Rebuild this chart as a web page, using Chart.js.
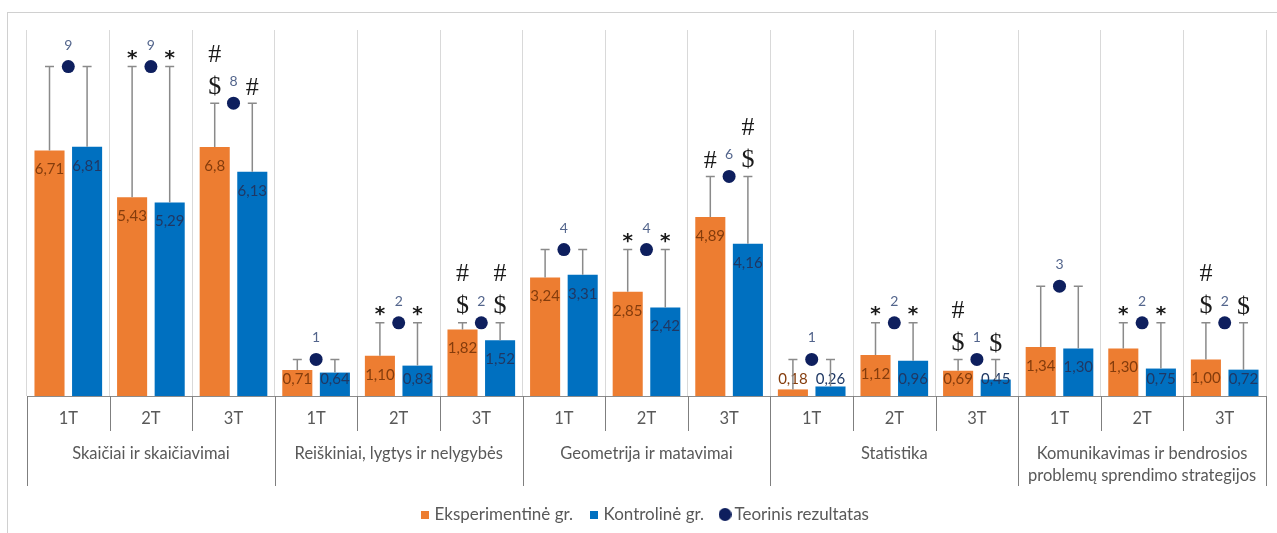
<!DOCTYPE html>
<html lang="lt">
<head>
<meta charset="utf-8">
<title>Matematikos testų rezultatai</title>
<script src="https://cdn.jsdelivr.net/npm/chart.js@4.4.1/dist/chart.umd.min.js"></script>
<style>
  html, body { margin: 0; padding: 0; background: #fff; overflow: hidden; }
  #frame { position: absolute; left: 7px; top: 12px; width: 1320px; height: 580px;
           border: 1px solid #d0d0d0; box-sizing: border-box; }
  #c { position: absolute; left: 0; top: 0; }
</style>
</head>
<body>
<div id="frame"></div>
<canvas id="c" width="1277" height="533"></canvas>
<script>
// Content areas (outer axis level) and test rounds (inner axis level)
const groups = [
  'Skaičiai ir skaičiavimai',
  'Reiškiniai, lygtys ir nelygybės',
  'Geometrija ir matavimai',
  'Statistika',
  ['Komunikavimas ir bendrosios', 'problemų sprendimo strategijos']
];
const tests = ['1T', '2T', '3T'];

// Mean scores as printed on the bars
const experimentalText = ['6,71', '5,43', '6,8', '0,71', '1,10', '1,82', '3,24', '2,85', '4,89', '0,18', '1,12', '0,69', '1,34', '1,30', '1,00'];
const controlText      = ['6,81', '5,29', '6,13', '0,64', '0,83', '1,52', '3,31', '2,42', '4,16', '0,26', '0,96', '0,45', '1,30', '0,75', '0,72'];
// Maximum (theoretical) score; the whiskers reach up to it
const theoretical = [9, 9, 8, 1, 2, 2, 4, 4, 6, 1, 2, 1, 3, 2, 2];

// Significance marks above each whisker (first character sits on top)
const experimentalMarks = ['', '*', '#$', '', '*', '#$', '', '*', '#', '', '*', '#$', '', '*', '#$'];
const controlMarks      = ['', '*', '#', '', '*', '#$', '', '*', '#$', '', '*', '$', '', '*', '$'];

const toNumber = s => parseFloat(s.replace(',', '.'));
const experimental = experimentalText.map(toNumber);
const control = controlText.map(toNumber);
const labels = groups.flatMap(() => tests);

const FONT = 'Lato, "Open Sans", sans-serif';
const ORANGE = '#ed7d31', BLUE = '#0070c0', NAVY = '#0e1f5e';
const AXIS_TEXT = '#595959';

function swatch(color, size, round) {
  const cv = document.createElement('canvas');
  cv.width = size; cv.height = size;
  const g = cv.getContext('2d');
  g.fillStyle = color;
  if (round) { g.beginPath(); g.arc(size / 2, size / 2, size / 2, 0, Math.PI * 2); g.fill(); }
  else g.fillRect(0, 0, size, size);
  return cv;
}
const legendSwatches = [swatch(ORANGE, 8, false), swatch(BLUE, 8, false), swatch(NAVY, 13, true)];

// Draws text so that the visible glyphs are centred on (x, cy)
function centredText(ctx, text, x, cy) {
  ctx.textAlign = 'center';
  ctx.textBaseline = 'alphabetic';
  const m = ctx.measureText(text);
  ctx.fillText(text, x, cy + (m.actualBoundingBoxAscent - m.actualBoundingBoxDescent) / 2);
}

const annotations = {
  id: 'annotations',
  afterDatasetsDraw(chart) {
    const { ctx } = chart;
    const y = chart.scales.y;
    const series = [
      { meta: chart.getDatasetMeta(0), text: experimentalText, marks: experimentalMarks, color: '#843c0c' },
      { meta: chart.getDatasetMeta(1), text: controlText, marks: controlMarks, color: '#1f3864' }
    ];
    ctx.save();
    series.forEach(s => {
      s.meta.data.forEach((bar, i) => {
        // value label inside the top of the bar
        ctx.fillStyle = s.color;
        ctx.font = '15px ' + FONT;
        centredText(ctx, s.text[i], bar.x, Math.min(bar.y + 20, bar.base - 16));

        // whisker up to the theoretical score
        const capY = y.getPixelForValue(theoretical[i]);
        ctx.strokeStyle = '#8a8a8a';
        ctx.lineWidth = 1.5;
        ctx.beginPath();
        ctx.moveTo(bar.x, bar.y);
        ctx.lineTo(bar.x, capY);
        ctx.moveTo(bar.x - 4.5, capY);
        ctx.lineTo(bar.x + 4.5, capY);
        ctx.stroke();

        // significance marks
        const m = s.marks[i];
        ctx.fillStyle = '#1a1a1a';
        if (m === '*') {
          ctx.font = 'bold 20px "DejaVu Sans"';
          centredText(ctx, '*', bar.x, capY - 12);
        } else if (m.length === 2) {
          ctx.font = '26px "Liberation Serif"';
          centredText(ctx, m[0], bar.x, capY - 50);
          centredText(ctx, m[1], bar.x, capY - 18);
        } else if (m.length === 1) {
          ctx.font = '26px "Liberation Serif"';
          centredText(ctx, m, bar.x, capY - 17);
        }
      });
    });
    // theoretical score above each dot
    ctx.fillStyle = '#53658c';
    ctx.font = '14px ' + FONT;
    chart.getDatasetMeta(2).data.forEach((pt, i) => {
      centredText(ctx, String(theoretical[i]), pt.x, pt.y - 22);
    });
    ctx.restore();
  },
  afterDraw(chart) {
    // separators between test rounds and between content areas below the axis
    const { ctx } = chart;
    const x = chart.scales.x, x2 = chart.scales.x2;
    const n = labels.length;
    ctx.save();
    ctx.strokeStyle = '#7f7f7f';
    ctx.lineWidth = 1;
    for (let k = 0; k <= n; k++) {
      let px = k === 0 ? x.left : k === n ? x.right
        : (x.getPixelForValue(k - 1) + x.getPixelForValue(k)) / 2;
      px = Math.round(px) + 0.5;
      const bottom = k % tests.length === 0 ? x2.bottom : x.bottom;
      ctx.beginPath();
      ctx.moveTo(px, x.top);
      ctx.lineTo(px, bottom);
      ctx.stroke();
    }
    ctx.restore();
  }
};

new Chart(document.getElementById('c'), {
  data: {
    labels,
    datasets: [
      { type: 'bar', label: 'Eksperimentinė gr.', data: experimental, backgroundColor: ORANGE,
        xAxisID: 'x', yAxisID: 'y', barPercentage: 0.8, categoryPercentage: 0.91 },
      { type: 'bar', label: 'Kontrolinė gr.', data: control, backgroundColor: BLUE,
        xAxisID: 'x', yAxisID: 'y', barPercentage: 0.8, categoryPercentage: 0.91 },
      { type: 'line', label: 'Teorinis rezultatas', data: theoretical, showLine: false,
        pointRadius: 6.5, pointHoverRadius: 6.5, pointBackgroundColor: NAVY, pointBorderWidth: 0,
        backgroundColor: NAVY, borderColor: NAVY, xAxisID: 'x', yAxisID: 'y' }
    ]
  },
  options: {
    responsive: false,
    animation: false,
    layout: { padding: { left: 27, right: 11, top: 30, bottom: 0 } },
    scales: {
      x: {
        type: 'category',
        offset: true,
        grid: { offset: true, color: '#d9d9d9', drawTicks: false },
        border: { display: true, color: '#8c8c8c' },
        ticks: { color: AXIS_TEXT, font: { family: FONT, size: 16.5 }, padding: 13,
                 maxRotation: 0, autoSkip: false },
        afterFit(scale) { scale.height = 35; }
      },
      x2: {
        type: 'category',
        labels: groups,
        position: 'bottom',
        offset: true,
        grid: { display: false, drawTicks: false },
        border: { display: false },
        ticks: { color: AXIS_TEXT, font: { family: FONT, size: 16.5, lineHeight: 1.34 }, padding: 12,
                 maxRotation: 0, autoSkip: false },
        afterFit(scale) { scale.height = 55; }
      },
      y: { display: false, min: 0, max: 10 }
    },
    plugins: {
      tooltip: { enabled: false },
      legend: {
        position: 'bottom',
        labels: {
          usePointStyle: true,
          boxWidth: 2,
          boxHeight: 17,
          padding: 20,
          color: AXIS_TEXT,
          font: { family: FONT, size: 17 },
          generateLabels(chart) {
            const items = Chart.defaults.plugins.legend.labels.generateLabels(chart);
            items.forEach(it => { it.pointStyle = legendSwatches[it.datasetIndex]; });
            return items;
          }
        }
      }
    }
  },
  plugins: [annotations]
});
</script>
</body>
</html>
